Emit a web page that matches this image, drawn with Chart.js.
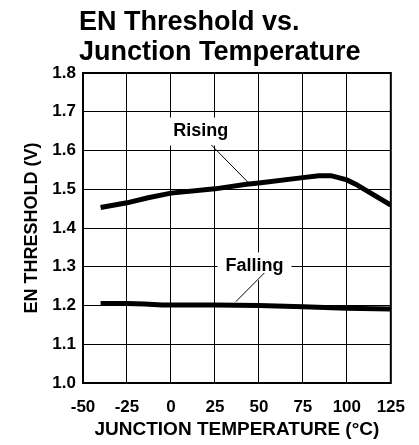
<!DOCTYPE html>
<html>
<head>
<meta charset="utf-8">
<script src="https://cdn.jsdelivr.net/npm/chart.js@4"></script>
<style>
  html, body { margin: 0; padding: 0; background: #fff; }
  #wrap { width: 419px; height: 445px; }
</style>
</head>
<body>
<div id="wrap"><canvas id="chart" width="419" height="445"></canvas></div>
<script>
// values
const titleLines = ['EN Threshold vs.', 'Junction Temperature'];
const risingTemp = [-40, -25, -13, 0, 25, 43, 50, 75, 84, 91, 100, 105, 125];
const risingVolt = [1.453, 1.465, 1.478, 1.490, 1.501, 1.513, 1.516, 1.530, 1.535, 1.535, 1.524, 1.513, 1.459];
const fallingTemp = [-40, -25, -15, -5, 25, 50, 75, 100, 125];
const fallingVolt = [1.205, 1.205, 1.204, 1.201, 1.201, 1.200, 1.197, 1.193, 1.191];
const xTicks = [-50, -25, 0, 25, 50, 75, 100, 125];
const yTicks = [1.0, 1.1, 1.2, 1.3, 1.4, 1.5, 1.6, 1.7, 1.8];

// callout labels: text position and leader line (data units)
const labels = [
  { text: 'Rising', x: 17, y: 1.649, from: [23.0, 1.614], to: [43.6, 1.519] },
  { text: 'Falling', x: 47.5, y: 1.301, from: [53.1, 1.284], to: [36.9, 1.210] }
];

const FONT = "'Liberation Sans', Arial, Helvetica, sans-serif";

const toPoints = (xs, ys) => xs.map((x, i) => ({ x: x, y: ys[i] }));

const titlePlugin = {
  id: 'titleText',
  afterDraw(chart) {
    const ctx = chart.ctx;
    ctx.save();
    ctx.fillStyle = '#000';
    ctx.font = 'bold 27px ' + FONT;
    ctx.textAlign = 'left';
    ctx.textBaseline = 'alphabetic';
    ctx.fillText(titleLines[0], 79, 30);
    ctx.fillText(titleLines[1], 79, 60);
    ctx.restore();
  }
};

const framePlugin = {
  id: 'frame',
  afterDatasetsDraw(chart) {
    const { ctx, chartArea: a, scales } = chart;
    const xs = scales.x, ys = scales.y;
    ctx.save();
    // callouts
    ctx.font = 'bold 18px ' + FONT;
    ctx.textAlign = 'center';
    ctx.textBaseline = 'middle';
    labels.forEach(l => {
      const px = xs.getPixelForValue(l.x);
      const py = ys.getPixelForValue(l.y);
      const w = ctx.measureText(l.text).width;
      ctx.fillStyle = '#fff';
      ctx.fillRect(px - w / 2 - 8, py - 14, w + 16, 28);
      ctx.fillStyle = '#000';
      ctx.fillText(l.text, px, py);
      ctx.beginPath();
      ctx.lineWidth = 1;
      ctx.strokeStyle = '#000';
      ctx.moveTo(xs.getPixelForValue(l.from[0]), ys.getPixelForValue(l.from[1]));
      ctx.lineTo(xs.getPixelForValue(l.to[0]), ys.getPixelForValue(l.to[1]));
      ctx.stroke();
    });
    // plot frame
    ctx.lineWidth = 2;
    ctx.strokeStyle = '#000';
    ctx.strokeRect(a.left, a.top, a.right - a.left, a.bottom - a.top);
    ctx.restore();
  }
};

new Chart(document.getElementById('chart'), {
  type: 'line',
  data: {
    datasets: [
      {
        label: 'Rising',
        data: toPoints(risingTemp, risingVolt),
        borderColor: '#000',
        borderWidth: 5,
        pointRadius: 0,
        tension: 0,
        fill: false
      },
      {
        label: 'Falling',
        data: toPoints(fallingTemp, fallingVolt),
        borderColor: '#000',
        borderWidth: 5,
        pointRadius: 0,
        tension: 0,
        fill: false
      }
    ]
  },
  options: {
    responsive: false,
    animation: false,
    layout: { padding: { left: 0, top: 73, right: 22, bottom: 0 } },
    plugins: {
      legend: { display: false },
      title: { display: false },
      tooltip: { enabled: false }
    },
    scales: {
      x: {
        type: 'linear',
        min: -50,
        max: 125,
        afterBuildTicks: s => { s.ticks = xTicks.map(v => ({ value: v })); },
        afterFit: s => { s.height = 62; },
        grid: { color: '#000', lineWidth: 1, drawTicks: false },
        border: { display: false },
        ticks: {
          color: '#000',
          padding: 14,
          maxRotation: 0,
          font: { family: FONT, size: 17, weight: 'bold' }
        },
        title: {
          display: true,
          text: 'JUNCTION TEMPERATURE (°C)',
          color: '#000',
          padding: { top: 0, bottom: 4 },
          font: { family: FONT, size: 19, weight: 'bold' }
        }
      },
      y: {
        type: 'linear',
        min: 1.0,
        max: 1.8,
        afterBuildTicks: s => { s.ticks = yTicks.map(v => ({ value: v })); },
        afterFit: s => { s.width = 83; },
        grid: { color: '#000', lineWidth: 1, drawTicks: false },
        border: { display: false },
        ticks: {
          color: '#000',
          padding: 7,
          callback: v => Number(v).toFixed(1),
          font: { family: FONT, size: 17, weight: 'bold' }
        },
        title: {
          display: true,
          text: 'EN THRESHOLD (V)',
          color: '#000',
          padding: { top: 21, bottom: 0 },
          font: { family: FONT, size: 18, weight: 'bold' }
        }
      }
    }
  },
  plugins: [titlePlugin, framePlugin]
});
</script>
</body>
</html>
